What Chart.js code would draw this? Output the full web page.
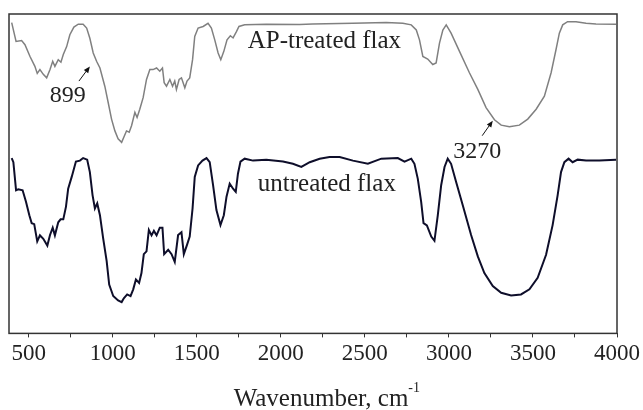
<!DOCTYPE html>
<html>
<head>
<meta charset="utf-8">
<script src="https://cdn.jsdelivr.net/npm/chart.js@4.4.0/dist/chart.umd.min.js"></script>
<style>
  body { margin: 0; background: #fff; }
  #wrap { width: 643px; height: 410px; }
</style>
</head>
<body>
<div id="wrap"><canvas id="ftir" width="643" height="410"></canvas></div>
<script>
// wavenumber (cm-1) and relative transmittance (arbitrary, offset spectra)
var wnAP = [399, 425, 458, 478, 508, 537, 551, 567, 587, 607, 627, 643, 656, 676, 692, 706, 726, 745, 769, 795,
  824, 845, 864, 884, 904, 924, 953, 973, 993, 1013, 1032, 1053, 1066, 1082, 1098, 1112, 1132, 1145, 1161, 1181,
  1201, 1221, 1240, 1261, 1280, 1296, 1306, 1320, 1340, 1356, 1369, 1379, 1395, 1409, 1429, 1442, 1458, 1475, 1488, 1508,
  1538, 1567, 1587, 1607, 1627, 1643, 1661, 1680, 1700, 1716, 1736, 1751, 1785, 1914, 2112, 2189, 2429, 2627, 2726, 2776,
  2806, 2825, 2845, 2874, 2904, 2924, 2944, 2964, 2984, 3013, 3063, 3122, 3172, 3221, 3271, 3311, 3360, 3419, 3469, 3519,
  3568, 3608, 3637, 3657, 3677, 3706, 3756, 3816, 3875, 3994];
var apTreated = [97.3, 91.4, 91.7, 90.4, 86.7, 83.6, 81.4, 82.6, 81.1, 80.0, 82.6, 85.2, 83.6, 85.7, 84.9, 87.3, 89.8, 93.5, 95.9, 96.8,
  96.8, 95.6, 92.4, 87.8, 85.2, 83.1, 77.4, 72.3, 67.1, 63.4, 60.9, 59.8, 61.4, 63.4, 63.0, 65.0, 69.2, 67.6, 70.2, 73.8,
  79.5, 82.6, 82.6, 83.1, 82.1, 83.1, 78.5, 77.4, 79.5, 77.4, 79.0, 76.4, 79.5, 80.0, 76.9, 79.0, 80.0, 85.7, 93.0, 95.6,
  96.1, 97.1, 95.6, 91.9, 87.8, 85.7, 88.3, 91.9, 93.2, 92.5, 94.5, 96.1, 96.6, 96.8, 96.7, 96.9, 97.1, 97.3, 97.1, 96.6,
  95.0, 91.9, 86.7, 85.9, 84.2, 84.7, 90.9, 95.0, 96.6, 94.0, 88.3, 81.6, 76.4, 70.7, 66.9, 65.2, 64.7, 65.2, 67.1, 70.2,
  74.3, 81.6, 88.8, 94.0, 96.6, 97.6, 97.6, 97.1, 96.9, 96.8];

var wnRaw = [399, 409, 425, 438, 464, 484, 504, 518, 533, 551, 567, 587, 611, 627, 643, 656, 676, 690, 706, 722,
  735, 756, 781, 805, 824, 848, 864, 880, 894, 908, 924, 943, 964, 979, 1003, 1032, 1053, 1066, 1086, 1106,
  1122, 1138, 1157, 1171, 1185, 1201, 1215, 1231, 1245, 1261, 1280, 1296, 1306, 1330, 1350, 1369, 1389, 1409, 1423, 1442,
  1458, 1475, 1488, 1508, 1534, 1558, 1577, 1597, 1617, 1641, 1661, 1677, 1696, 1716, 1732, 1745, 1760, 1785, 1835, 1914,
  2013, 2072, 2122, 2172, 2231, 2290, 2350, 2429, 2518, 2598, 2696, 2736, 2776, 2795, 2815, 2835, 2849, 2869, 2895, 2914,
  2934, 2954, 2974, 2993, 3013, 3043, 3082, 3132, 3172, 3211, 3261, 3311, 3370, 3429, 3479, 3528, 3578, 3617, 3647, 3667,
  3687, 3712, 3736, 3766, 3816, 3895, 3994];
var untreated = [54.9, 53.6, 44.8, 45.1, 44.8, 41.2, 37.0, 34.5, 34.2, 28.8, 30.7, 29.6, 27.5, 30.8, 33.1, 30.7, 34.8, 35.7, 35.7, 39.7,
  45.3, 49.0, 53.8, 54.1, 54.9, 54.4, 50.5, 43.3, 39.1, 40.7, 37.0, 29.8, 22.6, 15.3, 11.7, 10.3, 9.8, 11.0, 12.2, 11.7,
  13.8, 16.9, 15.8, 18.9, 24.8, 25.7, 32.4, 30.7, 32.1, 30.7, 33.1, 33.1, 24.8, 26.2, 24.8, 22.4, 30.8, 31.7, 24.8, 27.7,
  30.3, 39.1, 49.0, 52.6, 54.1, 54.9, 53.6, 46.4, 38.6, 33.9, 37.0, 42.8, 46.9, 45.3, 44.3, 50.0, 53.8, 54.7, 54.1, 54.4,
  53.8, 53.1, 52.1, 53.6, 54.7, 55.2, 55.2, 54.1, 53.1, 54.7, 54.9, 53.8, 54.7, 53.1, 48.4, 41.2, 34.5, 33.8, 30.3, 29.0,
  37.0, 46.4, 52.1, 54.7, 53.1, 47.4, 40.2, 30.8, 24.1, 18.9, 14.8, 12.7, 11.9, 12.2, 13.8, 17.4, 24.6, 33.9, 43.3, 50.5,
  53.6, 54.7, 53.6, 54.4, 54.1, 54.1, 54.4];

var xTicks = [500, 1000, 1500, 2000, 2500, 3000, 3500, 4000];
var minorStep = 250;

// labels: [text, wavenumber, value]
var seriesLabels = [['AP-treated flax', 1803, 89.3], ['untreated flax', 1863, 44.5]];
// peak marks: [text, text wn, text value, arrow tail wn, tail value, tip wn, tip value]
var peaks = [['899', 732, 72.3, 799, 79.0, 864, 83.6], ['3270', 3168, 54.9, 3198, 61.9, 3261, 66.6]];

var serif = '"Liberation Serif", "Times New Roman", serif';

function pairs(xs, ys) {
  return xs.map(function (x, i) { return { x: x, y: ys[i] }; });
}

var extras = {
  id: 'extras',
  afterDraw: function (chart) {
    var c = chart.ctx, a = chart.chartArea;
    var sx = chart.scales.x, sy = chart.scales.y;
    c.save();
    // frame
    c.strokeStyle = '#333';
    c.lineWidth = 1.5;
    c.strokeRect(a.left, a.top, a.right - a.left, a.bottom - a.top);

    c.fillStyle = '#222';
    c.textBaseline = 'alphabetic';
    c.textAlign = 'left';
    c.font = '25px ' + serif;
    seriesLabels.forEach(function (l) {
      c.fillText(l[0], sx.getPixelForValue(l[1]), sy.getPixelForValue(l[2]));
    });

    c.font = '24px ' + serif;
    c.textAlign = 'center';
    peaks.forEach(function (p) {
      c.fillText(p[0], sx.getPixelForValue(p[1]), sy.getPixelForValue(p[2]));
      var x0 = sx.getPixelForValue(p[3]), y0 = sy.getPixelForValue(p[4]);
      var x1 = sx.getPixelForValue(p[5]), y1 = sy.getPixelForValue(p[6]);
      var ang = Math.atan2(y1 - y0, x1 - x0);
      c.strokeStyle = '#111';
      c.lineWidth = 1;
      c.beginPath();
      c.moveTo(x0, y0);
      c.lineTo(x1 - 4 * Math.cos(ang), y1 - 4 * Math.sin(ang));
      c.stroke();
      c.beginPath();
      c.moveTo(x1, y1);
      c.lineTo(x1 - 7 * Math.cos(ang - 0.4), y1 - 7 * Math.sin(ang - 0.4));
      c.lineTo(x1 - 7 * Math.cos(ang + 0.4), y1 - 7 * Math.sin(ang + 0.4));
      c.closePath();
      c.fillStyle = '#111';
      c.fill();
      c.fillStyle = '#222';
    });

    // axis title with superscript
    var main = 'Wavenumber, cm';
    c.font = '25px ' + serif;
    var w = c.measureText(main).width;
    var cx = (a.left + a.right) / 2 + 8;
    c.textAlign = 'left';
    c.fillText(main, cx - w / 2, 406);
    c.font = '14px ' + serif;
    c.fillText('-1', cx + w / 2, 392);
    c.restore();
  }
};

new Chart(document.getElementById('ftir'), {
  type: 'line',
  data: {
    datasets: [
      {
        label: 'AP-treated flax',
        data: pairs(wnAP, apTreated),
        borderColor: '#808080',
        borderWidth: 1.5,
        pointRadius: 0,
        tension: 0
      },
      {
        label: 'untreated flax',
        data: pairs(wnRaw, untreated),
        borderColor: '#0e0e2a',
        borderWidth: 2,
        pointRadius: 0,
        tension: 0
      }
    ]
  },
  options: {
    responsive: false,
    animation: false,
    events: [],
    layout: { padding: { left: 9, right: 25, top: 14, bottom: 39 } },
    plugins: { legend: { display: false }, tooltip: { enabled: false } },
    scales: {
      x: {
        type: 'linear',
        min: 383,
        max: 4000,
        afterBuildTicks: function (s) {
          var t = [];
          for (var v = xTicks[0]; v <= xTicks[xTicks.length - 1]; v += minorStep) t.push({ value: v });
          s.ticks = t;
        },
        ticks: {
          autoSkip: false,
          maxRotation: 0,
          padding: 3,
          color: '#222',
          font: { family: serif, size: 23 },
          callback: function (v) { return xTicks.indexOf(v) >= 0 ? String(v) : ''; }
        },
        grid: { drawOnChartArea: false, drawTicks: true, tickLength: 4, color: '#333' },
        border: { display: false }
      },
      y: { display: false, min: 0, max: 100 }
    }
  },
  plugins: [extras]
});
</script>
</body>
</html>
